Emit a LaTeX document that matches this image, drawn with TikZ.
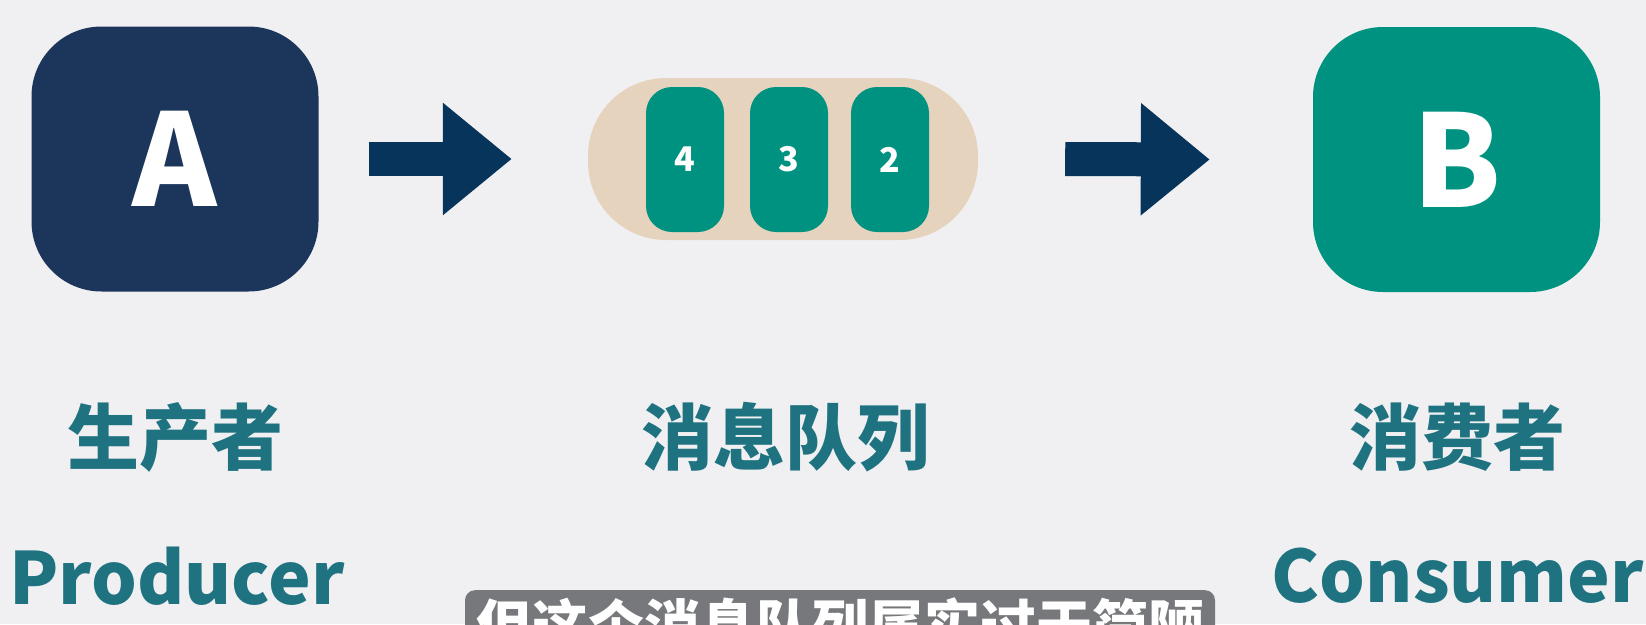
\documentclass[tikz,border=0pt]{standalone}
\usepackage{fontspec}
\setmainfont{Liberation Sans}
\newfontfamily\cjk{Noto Sans CJK SC}
\usetikzlibrary{arrows.meta,calc}
\definecolor{bg}{HTML}{F0F0F3}
\definecolor{navy}{HTML}{1C355A}
\definecolor{teal}{HTML}{009280}
\definecolor{beige}{HTML}{E6D3BE}
\definecolor{arrowc}{HTML}{06345A}
\definecolor{labelc}{HTML}{1F7380}
\definecolor{subgray}{HTML}{77787B}
\tikzset{
  bigbox/.style={rounded corners=70pt, minimum width=287pt, minimum height=265pt, inner sep=0pt, text=white, font=\cjk\bfseries\fontsize{128}{128}\selectfont},
  slot/.style={fill=teal, rounded corners=26pt, minimum width=78pt, minimum height=145pt, inner sep=0pt, text=white, font=\cjk\bfseries\fontsize{34}{34}\selectfont},
  blockarrow/.style={draw=arrowc, line width=34pt, -{Triangle[length=69pt, width=108pt, fill=arrowc]}},
  cjklabel/.style={text=labelc, font=\cjk\bfseries\fontsize{72}{72}\selectfont, inner sep=0pt},
  enlabel/.style={text=labelc, font=\cjk\bfseries\fontsize{72}{72}\selectfont, inner sep=0pt}
}
\begin{document}
\begin{tikzpicture}[x=1pt,y=-1pt]
\useasboundingbox (0,0) rectangle (1646,624);
\clip (0,0) rectangle (1646,624);
\fill[bg] (0,0) rectangle (1646,624);

\node[bigbox, fill=navy] (A) at (175,159) {A};
\node[bigbox, fill=teal] (B) at (1456.5,159.5) {B};

\node[fill=beige, rounded corners=78pt, minimum width=390pt, minimum height=162pt, inner sep=0pt] (Q) at (783,159) {};
\node[slot] (s4) at (685,159.5) {4};
\node[slot] (s3) at (789,159.5) {3};
\node[slot] (s2) at (890,159.5) {2};

\coordinate (a1s) at ($(A.east)+(50,0)$);
\coordinate (a1e) at ($(Q.west)+(-76,0)$);
\coordinate (a2s) at ($(Q.east)+(87,0)$);
\coordinate (a2e) at ($(B.west)+(-103,0)$);
\draw[blockarrow] (a1s) -- (a1e);
\draw[blockarrow] (a2s) -- (a2e);

\node[cjklabel] (lA) at (175,437) {生产者};
\node[cjklabel] (lQ) at (785,437) {消息队列};
\node[cjklabel] (lB) at (1457,437) {消费者};

\node[enlabel] (eA) at (177,576) {Producer};
\node[enlabel] (eB) at (1458,576) {Consumer};

\node[anchor=north, fill=subgray, rounded corners=10pt, inner xsep=11pt, inner ysep=8pt, text=white, font=\cjk\bfseries\fontsize{56}{56}\selectfont] (sub) at (840,590) {但这个消息队列属实过于简陋};
\end{tikzpicture}
\end{document}
